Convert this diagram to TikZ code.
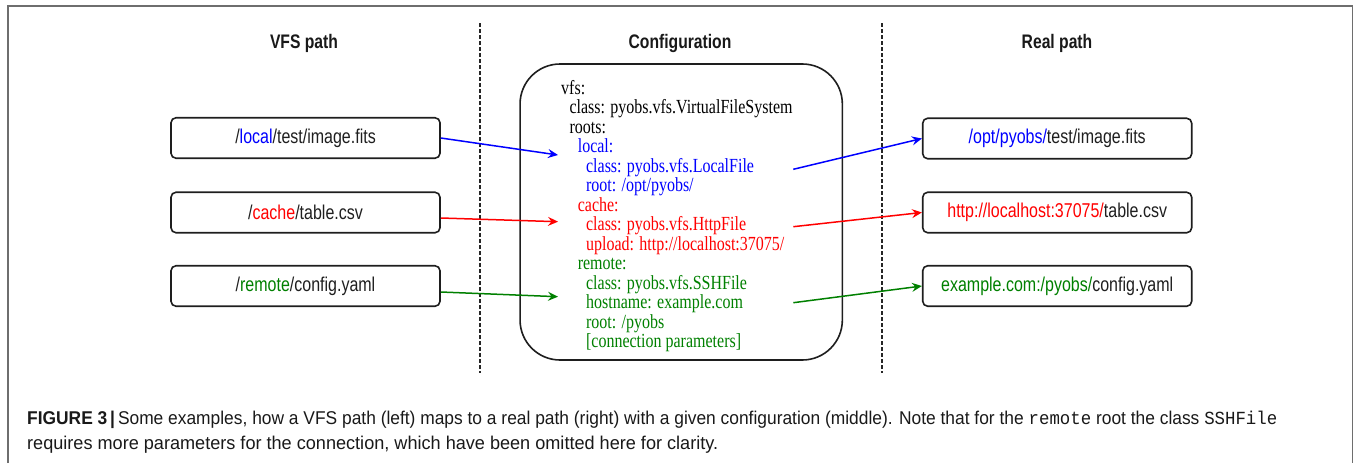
\documentclass[tikz,border=0pt]{standalone}
\usepackage{fontspec}
\usepackage{graphicx}
\setmainfont{Liberation Serif}
\newfontfamily\labelsans{Liberation Sans}[FakeStretch=0.8]
\newfontfamily\cfgserif{Liberation Serif}[FakeStretch=0.8]
\newfontfamily\capsans{Liberation Sans}
\newfontfamily\capmono{Liberation Mono}
\usetikzlibrary{arrows.meta}

\definecolor{cblue}{RGB}{0,0,255}
\definecolor{cred}{RGB}{255,0,0}
\definecolor{cgreen}{RGB}{0,128,0}
\definecolor{boxline}{RGB}{30,30,30}
\definecolor{framegray}{RGB}{110,110,110}
\definecolor{captext}{RGB}{25,25,25}

% one line of the YAML configuration: name, indent level, row, colour, text
\newcommand\cfgrow[5]{\node[cfgline, text=#4] (#1) at ({561+8.3*#2}, {94.5+19.46*#3}) {#5};}

\begin{document}
\begin{tikzpicture}[x=1pt, y=-1pt,
  pathbox/.style={draw=boxline, line width=1.6pt, rounded corners=5pt,
    minimum width=269pt, minimum height=40.5pt, inner sep=0pt,
    font=\labelsans\fontsize{20}{22}\selectfont, text=black!88},
  heading/.style={inner sep=0pt, font=\labelsans\bfseries\fontsize{19.6}{22}\selectfont, text=black!90},
  cfgframe/.style={draw=boxline, line width=1.6pt, rounded corners=40pt,
    minimum width=322.3pt, minimum height=296pt, inner sep=0pt},
  cfgline/.style={anchor=base west, inner sep=0pt,
    font=\cfgserif\fontsize{20}{22}\selectfont},
  divider/.style={draw=black!85, line width=1.1pt, dash pattern=on 3.5pt off 2.5pt},
  link/.style={line width=1.5pt, -{Stealth[length=10pt,width=9pt,inset=3.5pt]}},
  caption/.style={anchor=base west, inner sep=0pt, text=captext,
    font=\capsans\fontsize{18.5}{22}\selectfont},
]
\useasboundingbox (0,0) rectangle (1354,463);

% page frame, open at the bottom
\draw[framegray, line width=1.2pt] (8,463) -- (8,6) -- (1352.5,6) -- (1352.5,463);

% column headings
\node[heading] (hvfs)  at (304,43)  {VFS path};
\node[heading] (hcfg)  at (680,43)  {Configuration};
\node[heading] (hreal) at (1057,43) {Real path};

% column dividers
\coordinate (d1top) at (480,23);  \coordinate (d1bot) at (480,373);
\coordinate (d2top) at (882,23);  \coordinate (d2bot) at (882,373);
\draw[divider] (d1top) -- (d1bot);
\draw[divider] (d2top) -- (d2bot);

% virtual paths
\node[pathbox] (L1) at (305.5,138)   {/\textcolor{cblue}{local}/test/image.fits};
\node[pathbox] (L2) at (305.5,212.5) {/\textcolor{cred}{cache}/table.csv};
\node[pathbox] (L3) at (305.5,286)   {/\textcolor{cgreen}{remote}/config.yaml};

% real paths
\node[pathbox] (R1) at (1057.2,138.5) {\textcolor{cblue}{/opt/pyobs/}test/image.fits};
\node[pathbox] (R2) at (1057.2,212.5) {\textcolor{cred}{http://localhost:37075/}table.csv};
\node[pathbox] (R3) at (1057.2,286)   {\textcolor{cgreen}{example.com:/pyobs/}config.yaml};

% configuration
\node[cfgframe] (cfg) at (681.2,212) {};
\cfgrow{c1}{0}{0}{black}{vfs:}
\cfgrow{c2}{1}{1}{black}{class: pyobs.vfs.VirtualFileSystem}
\cfgrow{c3}{1}{2}{black}{roots:}
\cfgrow{c4}{2}{3}{cblue}{local:}
\cfgrow{c5}{3}{4}{cblue}{class: pyobs.vfs.LocalFile}
\cfgrow{c6}{3}{5}{cblue}{root: /opt/pyobs/}
\cfgrow{c7}{2}{6}{cred}{cache:}
\cfgrow{c8}{3}{7}{cred}{class: pyobs.vfs.HttpFile}
\cfgrow{c9}{3}{8}{cred}{upload: http://localhost:37075/}
\cfgrow{c10}{2}{9}{cgreen}{remote:}
\cfgrow{c11}{3}{10}{cgreen}{class: pyobs.vfs.SSHFile}
\cfgrow{c12}{3}{11}{cgreen}{hostname: example.com}
\cfgrow{c13}{3}{12}{cgreen}{root: /pyobs}
\cfgrow{c14}{3}{13}{cgreen}{[connection parameters]}

% arrow ends inside the configuration
\coordinate (inLocal)  at (558,155);
\coordinate (inCache)  at (558,221.7);
\coordinate (inRemote) at (558,296.7);
\coordinate (outLocal)  at (793.3,169.3);
\coordinate (outCache)  at (793.3,226.7);
\coordinate (outRemote) at (793.3,302.7);

\draw[link, cblue]  (L1.east) -- (inLocal);
\draw[link, cred]   ([yshift=-5.5pt]L2.east) -- (inCache);
\draw[link, cgreen] ([yshift=-6pt]L3.east) -- (inRemote);
\draw[link, cblue]  (outLocal) -- (R1.west);
\draw[link, cred]   (outCache) -- (R2.west);
\draw[link, cgreen] (outRemote) -- (R3.west);

% caption
\node[caption] (cap1) at (27,424) {\resizebox{1250pt}{\height}{\textbf{FIGURE 3\,|}\,Some examples, how a VFS path (left) maps to a real path (right) with a given configuration (middle). Note that for the {\capmono remote} root the class {\capmono SSHFile}}};
\node[caption] (cap2) at (27,449) {\resizebox{691pt}{\height}{requires more parameters for the connection, which have been omitted here for clarity.}};
\end{tikzpicture}
\end{document}
